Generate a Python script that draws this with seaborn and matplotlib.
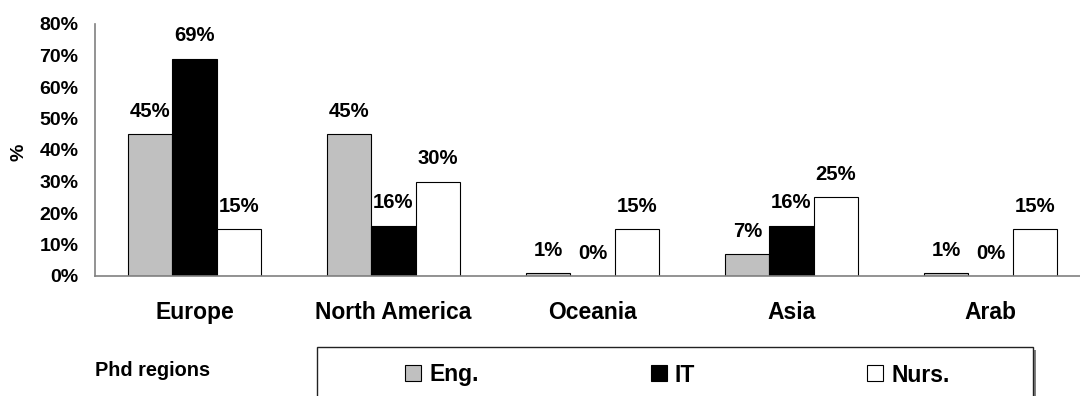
import matplotlib
matplotlib.use("Agg")
import matplotlib.pyplot as plt
from matplotlib.patches import Patch, Rectangle
from matplotlib.ticker import FixedLocator, PercentFormatter
import seaborn as sns
import pandas as pd

# Share of PhD holders by region of degree, per department
regions = ["Europe", "North America", "Oceania", "Asia", "Arab"]
departments = ["Eng.", "IT", "Nurs."]
eng = [45, 45, 1, 7, 1]
it = [69, 16, 0, 16, 0]
nurs = [15, 30, 15, 25, 15]
y_ticks = [0, 10, 20, 30, 40, 50, 60, 70, 80]

colors = {"Eng.": "#C0C0C0", "IT": "#000000", "Nurs.": "#FFFFFF"}

df = pd.DataFrame({
    "region": regions * 3,
    "dept": [d for d in departments for _ in regions],
    "value": eng + it + nurs,
})

sns.set_style("white")
plt.rcParams["font.family"] = ["Liberation Sans", "DejaVu Sans"]
plt.rcParams["font.weight"] = "bold"
plt.rcParams["text.color"] = "black"
plt.rcParams["axes.labelcolor"] = "black"
plt.rcParams["xtick.labelcolor"] = "black"
plt.rcParams["ytick.labelcolor"] = "black"

W, H, DPI = 1080, 396, 100
fig = plt.figure(figsize=(W / DPI, H / DPI), dpi=DPI)
fig.patch.set_facecolor("white")

# plot area in pixels: x 95..1090, y 24..276 (from top)
ax = fig.add_axes([95 / W, (H - 276) / H, 995 / W, 252 / H])

sns.barplot(data=df, x="region", y="value", hue="dept", order=regions,
            hue_order=departments, palette=colors, width=0.667, gap=0,
            edgecolor="#000000", linewidth=0.8, saturation=1, legend=False,
            ax=ax)

ax.set_xlim(-0.5, 4.5)
ax.set_ylim(0, 80)
ax.set_yticks(y_ticks)
ax.yaxis.set_major_formatter(PercentFormatter(decimals=0))

grey = "#808080"
for side in ["top", "right"]:
    ax.spines[side].set_visible(False)
for side in ["left", "bottom"]:
    ax.spines[side].set_color(grey)
    ax.spines[side].set_linewidth(1.2)

ax.tick_params(axis="y", which="major", direction="out", length=5.8,
               width=1.1, color=grey, pad=6.0, labelsize=14,
               labelcolor="black")
ax.xaxis.set_minor_locator(FixedLocator([i - 0.5 for i in range(len(regions) + 1)]))
ax.tick_params(axis="x", which="minor", direction="out", length=5,
               width=1.1, color=grey)
ax.tick_params(axis="x", which="major", length=0, pad=18, labelsize=16.5,
               labelcolor="black")
for lab in ax.get_xticklabels() + ax.get_yticklabels():
    lab.set_fontweight("bold")

ax.set_xlabel("")
ax.set_ylabel("%", fontsize=14, fontweight="bold", color="black")
ax.yaxis.set_label_coords(-0.068, 0.492)

# value labels above each bar
for cont, vals in zip(ax.containers, [eng, it, nurs]):
    ax.bar_label(cont, labels=[f"{v}%" for v in vals], padding=9.5,
                 fontsize=14.6, fontweight="bold", color="black")

# region caption at lower left
fig.text(153 / W, 1 - 371 / H, "Phd regions", ha="center", va="center",
         fontsize=14.3, fontweight="bold", color="black")

# legend box with shadow
box_l, box_r, box_t, box_b = 317, 1033, 347, 410
fig.patches.append(Rectangle((box_l / W + 3 / W, 1 - box_b / H - 3 / H),
                             (box_r - box_l) / W, (box_b - box_t) / H,
                             transform=fig.transFigure, facecolor=grey,
                             edgecolor="none", zorder=1))
fig.patches.append(Rectangle((box_l / W, 1 - box_b / H),
                             (box_r - box_l) / W, (box_b - box_t) / H,
                             transform=fig.transFigure, facecolor="white",
                             edgecolor="#222222", linewidth=1.0, zorder=2))

leg_fs = 16.5
em = leg_fs * DPI / 72
handles = [Patch(facecolor=colors[d], edgecolor="#000000", linewidth=0.8)
           for d in departments]
leg = fig.legend(handles, departments, ncol=3, frameon=False, loc="center",
                 bbox_to_anchor=(677.5 / W, 1 - 375 / H),
                 prop={"size": leg_fs, "weight": "bold"},
                 handlelength=16 / em, handleheight=16 / em,
                 handletextpad=8 / em, columnspacing=172 / em,
                 borderpad=0, borderaxespad=0)
for t in leg.get_texts():
    t.set_color("black")
leg.set_zorder(3)

fig.savefig("out.png", dpi=DPI, facecolor="white")
